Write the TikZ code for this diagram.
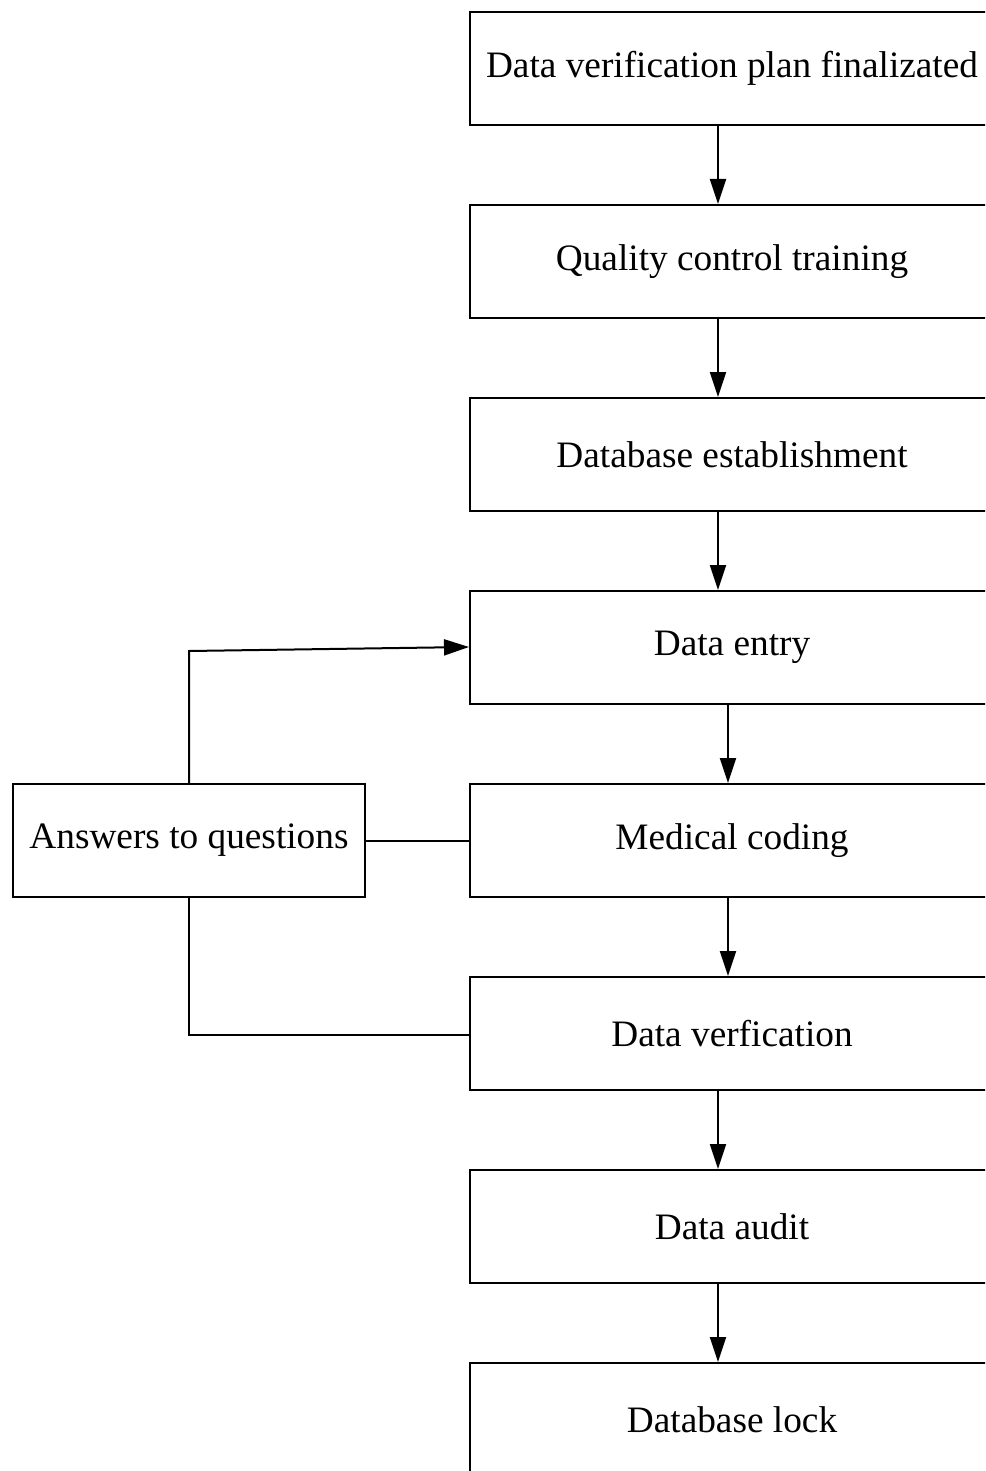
\documentclass[tikz,border=0pt]{standalone}
\usepackage{fontspec}
\setmainfont{Liberation Serif}
\usetikzlibrary{arrows.meta}
\begin{document}
\begin{tikzpicture}[x=1pt,y=-1pt,
  stepbox/.style={draw,line width=2pt,minimum width=524pt,minimum height=113pt,inner sep=0pt,font=\fontsize{37.3}{42}\selectfont,anchor=north west},
  sidebox/.style={draw,line width=2pt,minimum width=352pt,minimum height=113pt,inner sep=0pt,font=\fontsize{37.3}{42}\selectfont,anchor=north west},
  conn/.style={line width=2pt},
  arr/.style={conn,-{Triangle[length=25pt,width=16pt]}}]
\useasboundingbox (0,0) rectangle (985,1471);
\begin{scope}
\clip (0,0) rectangle (985,1471);
\node[stepbox] (a) at (469,11) {Data verification plan finalizated};
\node[stepbox] (b) at (469,204) {Quality control training};
\node[stepbox] (c) at (469,397) {Database establishment};
\node[stepbox] (d) at (469,590) {Data entry};
\node[stepbox] (e) at (469,783) {Medical coding};
\node[stepbox] (f) at (469,976) {Data verfication};
\node[stepbox] (g) at (469,1169) {Data audit};
\node[stepbox] (h) at (469,1362) {Database lock};
\node[sidebox] (q) at (12,783) {Answers to questions};
\draw[arr] (a.south west) ++(249,0) coordinate (a1) -- (a1 |- b.north);
\draw[arr] (b.south west) ++(249,0) coordinate (b1) -- (b1 |- c.north);
\draw[arr] (c.south west) ++(249,0) coordinate (c1) -- (c1 |- d.north);
\draw[arr] (d.south west) ++(259,0) coordinate (d1) -- (d1 |- e.north);
\draw[arr] (e.south west) ++(259,0) coordinate (e1) -- (e1 |- f.north);
\draw[arr] (f.south west) ++(249,0) coordinate (f1) -- (f1 |- g.north);
\draw[arr] (g.south west) ++(249,0) coordinate (g1) -- (g1 |- h.north);
\draw[conn] (q.east) -- (q.east -| e.west);
\coordinate (qt) at (189,651);
\coordinate (qb) at (189,1035);
\draw[arr] (q.north -| qt) -- (qt) -- (d.west |- 0,647);
\draw[conn] (q.south -| qb) -- (qb) -- (qb -| f.west);
\end{scope}
\end{tikzpicture}
\end{document}
